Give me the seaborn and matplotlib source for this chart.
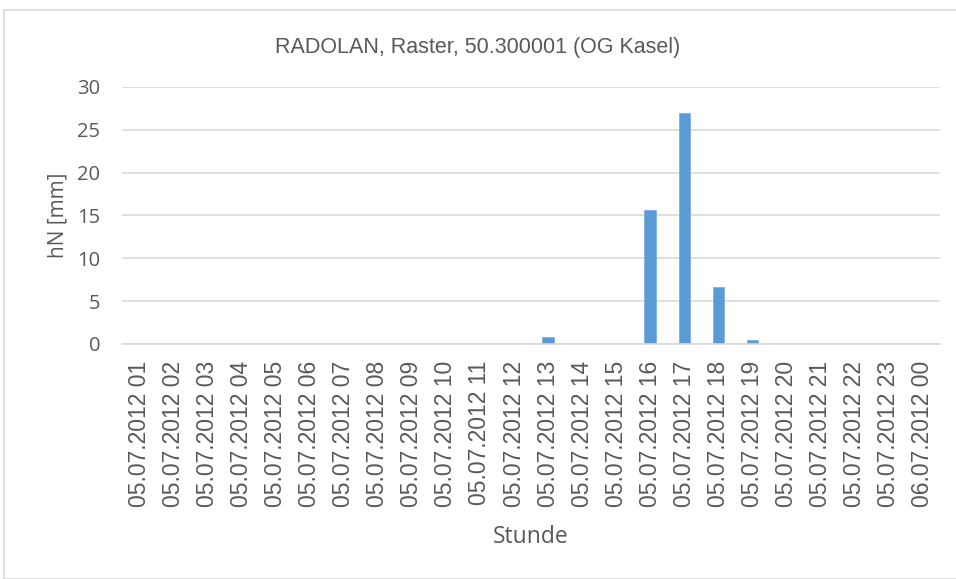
import pandas as pd
import matplotlib.pyplot as plt
import seaborn as sns
from matplotlib.patches import Rectangle

stunden = ["05.07.2012 %02d" % h for h in range(1, 24)] + ["06.07.2012 00"]
hn_mm = [0, 0, 0, 0, 0, 0, 0, 0, 0, 0, 0, 0, 0.8, 0, 0, 15.6, 26.9, 6.6, 0.45, 0, 0, 0, 0, 0]

df = pd.DataFrame({"Stunde": stunden, "hN": hn_mm})

sns.set_style("white")
plt.rcParams["font.family"] = ["Open Sans", "DejaVu Sans"]

fig = plt.figure(figsize=(9.56, 5.79), dpi=100)
fig.patches.append(Rectangle((4 / 956, 0), 1, 1 - 10 / 579, transform=fig.transFigure,
                             fill=False, edgecolor="#d9d9d9", linewidth=1.2))
ax = fig.add_axes([0.128, 0.406, 0.855, 0.444])

sns.barplot(data=df, x="Stunde", y="hN", color="#5b9bd5", width=0.34, ax=ax,
            saturation=1, edgecolor="#7fb0df", linewidth=0.6)

ax.set_ylim(0, 30)
ax.set_yticks(range(0, 31, 5))
ax.yaxis.grid(True, color="#d9d9d9", linewidth=1.2)
ax.set_axisbelow(True)
for side in ["top", "right", "left"]:
    ax.spines[side].set_visible(False)
ax.spines["bottom"].set_color("#d9d9d9")
ax.spines["bottom"].set_linewidth(1.2)

ax.tick_params(axis="x", length=0, pad=12)
for lbl in ax.get_xticklabels():
    lbl.set_rotation(90)
    lbl.set_fontsize(16.5)
    lbl.set_color("#595959")
    lbl.set_family(["Liberation Sans", "DejaVu Sans"])
ax.tick_params(axis="y", labelsize=14.5, colors="#595959", length=0, pad=16)

ax.set_xlabel("Stunde", fontsize=16.5, color="#595959", labelpad=13)
ax.set_ylabel("hN [mm]", fontsize=15, color="#595959", labelpad=6)
fig.suptitle("RADOLAN, Raster, 50.300001 (OG Kasel)", fontsize=15.5, color="#595959",
             family=["Liberation Sans", "DejaVu Sans"], x=0.5, y=1 - 48 / 579, va="center")

fig.savefig("out.png", dpi=100)
